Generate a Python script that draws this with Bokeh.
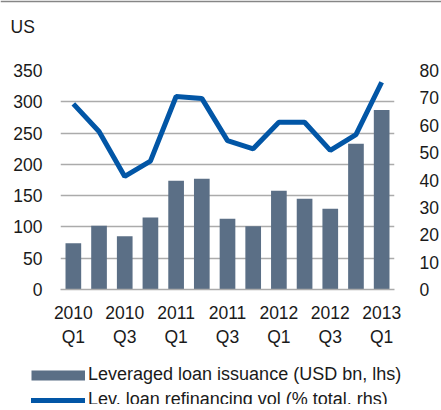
from bokeh.plotting import figure
from bokeh.models import (Range1d, LinearAxis, FixedTicker, Legend, LegendItem, Label, Span)
from bokeh.layouts import column
from bokeh.embed import file_html
from bokeh.resources import INLINE

quarters = ["2010 Q1", "2010 Q2", "2010 Q3", "2010 Q4",
            "2011 Q1", "2011 Q2", "2011 Q3", "2011 Q4",
            "2012 Q1", "2012 Q2", "2012 Q3", "2012 Q4", "2013 Q1"]
issuance = [74, 102, 85, 115, 174, 177, 113, 101, 158, 145, 129, 233, 287]
refinancing = [67.8, 57.7, 41.3, 46.9, 70.5, 69.8, 54.4, 51.4, 61.1, 61.1, 50.8, 56.6, 75.7]
tick_labels = {0: "2010\nQ1", 2: "2010\nQ3", 4: "2011\nQ1", 6: "2011\nQ3",
               8: "2012\nQ1", 10: "2012\nQ3", 12: "2013\nQ1"}
left_ticks = [0, 50, 100, 150, 200, 250, 300, 350]
right_ticks = [0, 10, 20, 30, 40, 50, 60, 70, 80]
series_names = ["Leveraged loan issuance (USD bn, lhs)",
                "Lev. loan refinancing vol (% total, rhs)"]

FONT = "Liberation Sans"
FS = "17.5px"
FS_LEG = "18px"
GRID = "#ababab"
BAR = "#5b6f86"
LINE = "#0256a6"
TXT = "#1a1a1a"

x = list(range(len(quarters)))


def bare(fig):
    fig.outline_line_color = None
    fig.background_fill_color = "white"
    fig.border_fill_color = "white"
    fig.xgrid.visible = False
    fig.ygrid.visible = False
    return fig


# ---- header: top rule + "US"
head = bare(figure(width=441, height=40, output_backend="svg", toolbar_location=None,
                   x_range=Range1d(0, 1), y_range=Range1d(0, 40), frame_align=False,
                   x_axis_location=None, y_axis_location=None,
                   min_border=0, min_border_left=0, min_border_right=0,
                   min_border_top=0, min_border_bottom=0))
head.add_layout(Span(location=39.2, dimension="width", line_color="#868686", line_width=1.7))
head.add_layout(Label(x=10, y=14, x_units="screen", y_units="screen", text="US",
                      text_font=FONT, text_font_size=FS, text_color=TXT,
                      text_baseline="alphabetic"))

# ---- main chart
p = figure(width=441, height=310, output_backend="svg", toolbar_location=None,
           x_range=Range1d(-0.5, len(quarters) - 0.5), y_range=Range1d(0, 350),
           frame_align=False,
           min_border_left=60, min_border_right=33, min_border_top=30, min_border_bottom=61)
p.outline_line_color = None
p.background_fill_color = "white"
p.border_fill_color = "white"
p.extra_y_ranges = {"rhs": Range1d(0, 80)}

bars = p.vbar(x=x, top=issuance, width=0.61, fill_color=BAR, line_color=None)
line = p.line(x=x, y=refinancing, y_range_name="rhs", line_color=LINE, line_width=5)

p.xgrid.visible = False
p.ygrid.ticker = FixedTicker(ticks=left_ticks)
p.ygrid.grid_line_color = GRID
p.ygrid.grid_line_width = 1.5

la = p.yaxis[0]
la.ticker = FixedTicker(ticks=left_ticks)
la.axis_line_color = None
la.major_tick_line_color = None
la.minor_tick_line_color = None
la.major_label_standoff = 12
la.major_label_text_font = FONT
la.major_label_text_font_size = FS
la.major_label_text_color = TXT

ra = LinearAxis(y_range_name="rhs", ticker=FixedTicker(ticks=right_ticks))
ra.axis_line_color = None
ra.major_tick_line_color = None
ra.minor_tick_line_color = None
ra.major_label_standoff = 19
ra.major_label_text_font = FONT
ra.major_label_text_font_size = FS
ra.major_label_text_color = TXT
p.add_layout(ra, "right")

xa = p.xaxis[0]
xa.ticker = FixedTicker(ticks=list(tick_labels.keys()))
xa.major_label_overrides = tick_labels
xa.axis_line_color = GRID
xa.axis_line_width = 1.5
xa.major_tick_line_color = None
xa.minor_tick_line_color = None
xa.major_label_standoff = 7
xa.major_label_text_font = FONT
xa.major_label_text_font_size = FS
xa.major_label_text_color = TXT
xa.major_label_text_line_height = 1.2

# ---- legend strip
leg = bare(figure(width=441, height=54, output_backend="svg", toolbar_location=None,
                  x_range=Range1d(0, 1), y_range=Range1d(0, 1), frame_align=False,
                  x_axis_location=None, y_axis_location=None,
                  min_border=0, min_border_left=0, min_border_right=0,
                  min_border_top=0, min_border_bottom=0))
lb = leg.line(x=x, y=issuance, line_color=BAR, line_width=10, line_cap="butt", visible=False)
ll = leg.line(x=x, y=refinancing, line_color=LINE, line_width=5, line_cap="round", visible=False)
legend = Legend(items=[LegendItem(label=series_names[0], renderers=[lb]),
                       LegendItem(label=series_names[1], renderers=[ll])],
                location=(31, -6), orientation="vertical")
legend.border_line_color = None
legend.background_fill_alpha = 0
legend.padding = 0
legend.margin = 0
legend.spacing = 4
legend.glyph_width = 54
legend.glyph_height = 20
legend.label_height = 20
legend.label_standoff = 3
legend.label_text_font = FONT
legend.label_text_font_size = FS_LEG
legend.label_text_color = TXT
leg.add_layout(legend, "center")

layout = column(head, p, leg, spacing=0)
open("out.html", "w").write(file_html(layout, INLINE))
